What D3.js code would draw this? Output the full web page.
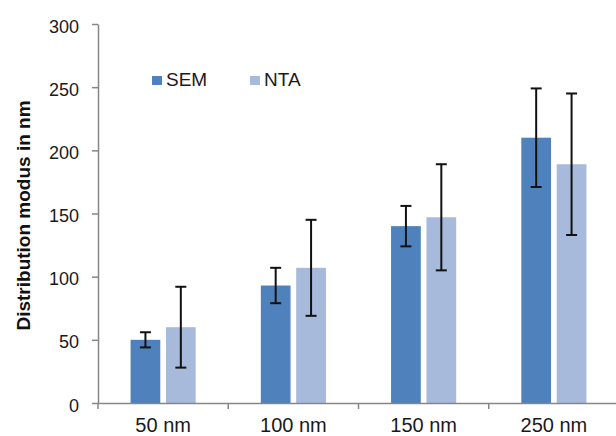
<!DOCTYPE html>
<html>
<head>
<meta charset="utf-8">
<script src="https://cdn.jsdelivr.net/npm/d3@7"></script>
<style>
  body { margin: 0; background: #fff; }
  svg { display: block; font-family: "Liberation Sans", Arial, sans-serif; }
</style>
</head>
<body>
<div class="canvas"></div>
<script>
/////////////////////////////////
//** DATA **//

const categories = ['50 nm', '100 nm', '150 nm', '250 nm'];
const series = ['SEM', 'NTA'];
const semValues = [50, 93, 140, 210];
const semErrors = [6, 14, 16, 39];
const ntaValues = [60, 107, 147, 189];
const ntaErrors = [32, 38, 42, 56];
const yTicks = [0, 50, 100, 150, 200, 250, 300];

const colours = { SEM: '#4f81bd', NTA: '#a8badb' };

/////////////////////////////////
//** DIMENSIONS **//

const width = 616, height = 436;
const plot = { left: 98, top: 24, right: 619, bottom: 403 };

const svg = d3.select('.canvas')
    .append('svg')
    .attr('width', width)
    .attr('height', height)
    .style('overflow', 'hidden');

// scales
const x0 = d3.scaleBand()
    .domain(categories)
    .range([plot.left, plot.right])
    .paddingInner(0.5)
    .paddingOuter(0.25);

const x1 = d3.scaleBand()
    .domain(series)
    .range([0, x0.bandwidth()])
    .paddingInner(0.16);

const y = d3.scaleLinear()
    .domain([0, 300])
    .range([plot.bottom, plot.top]);

// build rows for drawing
const rows = categories.map((c, i) => ({
    cat: c,
    bars: [
        { key: 'SEM', value: semValues[i], err: semErrors[i] },
        { key: 'NTA', value: ntaValues[i], err: ntaErrors[i] }
    ]
}));

/////////////////////////////////
//** BARS **//

const groups = svg.selectAll('g.group')
    .data(rows)
    .enter()
    .append('g')
    .attr('class', 'group')
    .attr('transform', d => `translate(${x0(d.cat)}, 0)`);

groups.selectAll('rect')
    .data(d => d.bars)
    .enter()
    .append('rect')
    .attr('x', d => x1(d.key))
    .attr('y', d => y(d.value))
    .attr('width', x1.bandwidth())
    .attr('height', d => y(0) - y(d.value))
    .attr('fill', d => colours[d.key]);

/////////////////////////////////
//** AXES **//

const grey = '#868686';

// y axis
const yAxis = svg.append('g')
    .attr('transform', `translate(${plot.left}, 0)`)
    .call(d3.axisLeft(y).tickValues(yTicks).tickSize(6).tickPadding(13).tickSizeOuter(0));

yAxis.select('.domain').attr('stroke', grey).attr('stroke-width', 1.5);
yAxis.selectAll('.tick line').attr('stroke', grey).attr('stroke-width', 1.5);
yAxis.selectAll('.tick text')
    .attr('font-size', 18)
    .attr('fill', '#1a1a1a')
    .attr('dy', '0.45em')
    .style('font-family', '"Liberation Sans", Arial, sans-serif');

// x axis: labels at band centres, ticks at band boundaries
const xAxis = svg.append('g')
    .attr('transform', `translate(0, ${plot.bottom})`)
    .call(d3.axisBottom(x0).tickSize(0).tickPadding(15));

xAxis.select('.domain').attr('stroke', grey).attr('stroke-width', 1.5);
xAxis.selectAll('.tick text')
    .attr('font-size', 20)
    .attr('fill', '#1a1a1a')
    .style('font-family', '"Liberation Sans", Arial, sans-serif');

const boundaries = categories.map(c => x0(c) - x0.step() * x0.paddingOuter());
boundaries.push(plot.right);

xAxis.selectAll('line.bound')
    .data(boundaries)
    .enter()
    .append('line')
    .attr('class', 'bound')
    .attr('x1', d => d)
    .attr('x2', d => d)
    .attr('y1', 0)
    .attr('y2', 6)
    .attr('stroke', grey)
    .attr('stroke-width', 1.5);

/////////////////////////////////
//** ERROR BARS **//

const capW = 11;
const errs = groups.selectAll('g.err')
    .data(d => d.bars)
    .enter()
    .append('g')
    .attr('class', 'err')
    .attr('stroke', '#111')
    .attr('stroke-width', 2);

errs.append('line')
    .attr('x1', d => x1(d.key) + x1.bandwidth() / 2)
    .attr('x2', d => x1(d.key) + x1.bandwidth() / 2)
    .attr('y1', d => y(d.value + d.err))
    .attr('y2', d => y(d.value - d.err));

[1, -1].forEach(s => {
    errs.append('line')
        .attr('x1', d => x1(d.key) + x1.bandwidth() / 2 - capW / 2)
        .attr('x2', d => x1(d.key) + x1.bandwidth() / 2 + capW / 2)
        .attr('y1', d => y(d.value + s * d.err))
        .attr('y2', d => y(d.value + s * d.err));
});

/////////////////////////////////
//** AXIS TITLE **//

svg.append('text')
    .attr('transform', `translate(30, ${(plot.top + plot.bottom) / 2 + 2}) rotate(-90)`)
    .attr('text-anchor', 'middle')
    .attr('font-size', 19)
    .attr('font-weight', 'bold')
    .attr('fill', '#111')
    .text('Distribution modus in nm');

/////////////////////////////////
//** LEGEND **//

const legendPos = [152, 250];
const legend = svg.selectAll('g.legend')
    .data(series)
    .enter()
    .append('g')
    .attr('class', 'legend')
    .attr('transform', (d, i) => `translate(${legendPos[i]}, 76)`);

legend.append('rect')
    .attr('width', 10)
    .attr('height', 9)
    .attr('fill', d => colours[d]);

legend.append('text')
    .attr('x', 14)
    .attr('y', 9.7)
    .attr('font-size', 19)
    .attr('fill', '#1a1a1a')
    .text(d => d);
</script>
</body>
</html>
